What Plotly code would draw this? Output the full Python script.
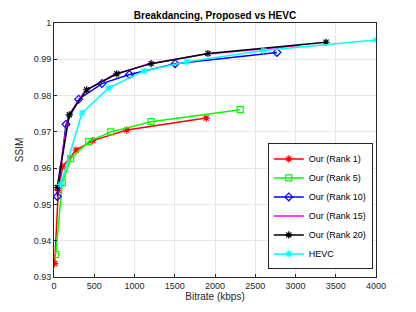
import plotly.graph_objects as go

rank1_x = [8, 54, 108, 273, 481, 904, 1891]
rank1_y = [0.9337, 0.9538, 0.9604, 0.9650, 0.9676, 0.9705, 0.9738]
rank5_x = [21, 104, 207, 431, 705, 1206, 2313]
rank5_y = [0.9362, 0.9560, 0.9626, 0.9673, 0.9700, 0.9728, 0.9761]
rank10_x = [41, 149, 307, 597, 937, 1505, 2770]
rank10_y = [0.9522, 0.9721, 0.9790, 0.9833, 0.9858, 0.9888, 0.9919]
rank15_x = [38, 175, 380, 740, 1150, 1850, 3050]
rank15_y = [0.9543, 0.9742, 0.9812, 0.9857, 0.9886, 0.9913, 0.9938]
rank20_x = [41, 190, 406, 780, 1207, 1912, 3380]
rank20_y = [0.9547, 0.9747, 0.9816, 0.9860, 0.9888, 0.9916, 0.9947]
hevc_x = [83, 348, 680, 1119, 1650, 2603, 4005]
hevc_y = [0.9555, 0.9752, 0.9821, 0.9868, 0.9893, 0.9924, 0.9953]

x_ticks = [0, 500, 1000, 1500, 2000, 2500, 3000, 3500, 4000]
y_ticks = [0.93, 0.94, 0.95, 0.96, 0.97, 0.98, 0.99, 1]

series = [
    ("Our (Rank 1)", rank1_x, rank1_y, "#ff0000", "asterisk-open"),
    ("Our (Rank 5)", rank5_x, rank5_y, "#00ff00", "square-open"),
    ("Our (Rank 10)", rank10_x, rank10_y, "#0000ff", "diamond-open"),
    ("Our (Rank 15)", rank15_x, rank15_y, "#ff00ff", None),
    ("Our (Rank 20)", rank20_x, rank20_y, "#000000", "asterisk-open"),
    ("HEVC", hevc_x, hevc_y, "#00ffff", "asterisk-open"),
]

fig = go.Figure()
for name, xs, ys, col, sym in series:
    if sym is None:
        fig.add_trace(go.Scatter(x=xs, y=ys, name=name, mode="lines",
                                 line=dict(color=col, width=1.5)))
    else:
        fig.add_trace(go.Scatter(x=xs, y=ys, name=name, mode="lines+markers",
                                 line=dict(color=col, width=1.5),
                                 marker=dict(symbol=sym, size=6, color=col,
                                             line=dict(color=col, width=1.2))))

FONT = "Liberation Sans, Arial, sans-serif"
axis_common = dict(
    showgrid=True, gridcolor="#e6e6e6", gridwidth=1,
    showline=True, linecolor="#262626", linewidth=1, mirror=True,
    ticks="inside", ticklen=3, tickcolor="#262626",
    tickfont=dict(family=FONT, size=9, color="#262626"),
    zeroline=False, automargin=False,
)

fig.update_layout(
    width=416, height=312,
    margin=dict(l=46, r=48, t=15, b=43),
    paper_bgcolor="white", plot_bgcolor="white",
    title=dict(text="<b>Breakdancing, Proposed vs HEVC</b>",
               font=dict(family=FONT, size=10, color="#000000"),
               x=207 / 416, xanchor="center", xref="container",
               y=1 - 7 / 312, yanchor="middle", yref="container"),
    xaxis=dict(range=[0, 4000], tickvals=x_ticks,
               ticktext=[str(v) for v in x_ticks],
               title=dict(text="Bitrate (kbps)", standoff=2,
                          font=dict(family=FONT, size=10, color="#262626")),
               **axis_common),
    yaxis=dict(range=[0.93, 1], tickvals=y_ticks,
               ticktext=["0.93", "0.94", "0.95", "0.96", "0.97", "0.98", "0.99", "1"],
               title=dict(text="SSIM", standoff=8,
                          font=dict(family=FONT, size=10, color="#262626")),
               **axis_common),
    legend=dict(x=0.99, xanchor="right", y=0.03, yanchor="bottom",
                bgcolor="white", bordercolor="#262626", borderwidth=1,
                font=dict(family=FONT, size=9, color="#000000"),
                itemwidth=30, tracegroupgap=0, itemsizing="trace"),
    showlegend=True,
)

fig.write_html("out.html")
